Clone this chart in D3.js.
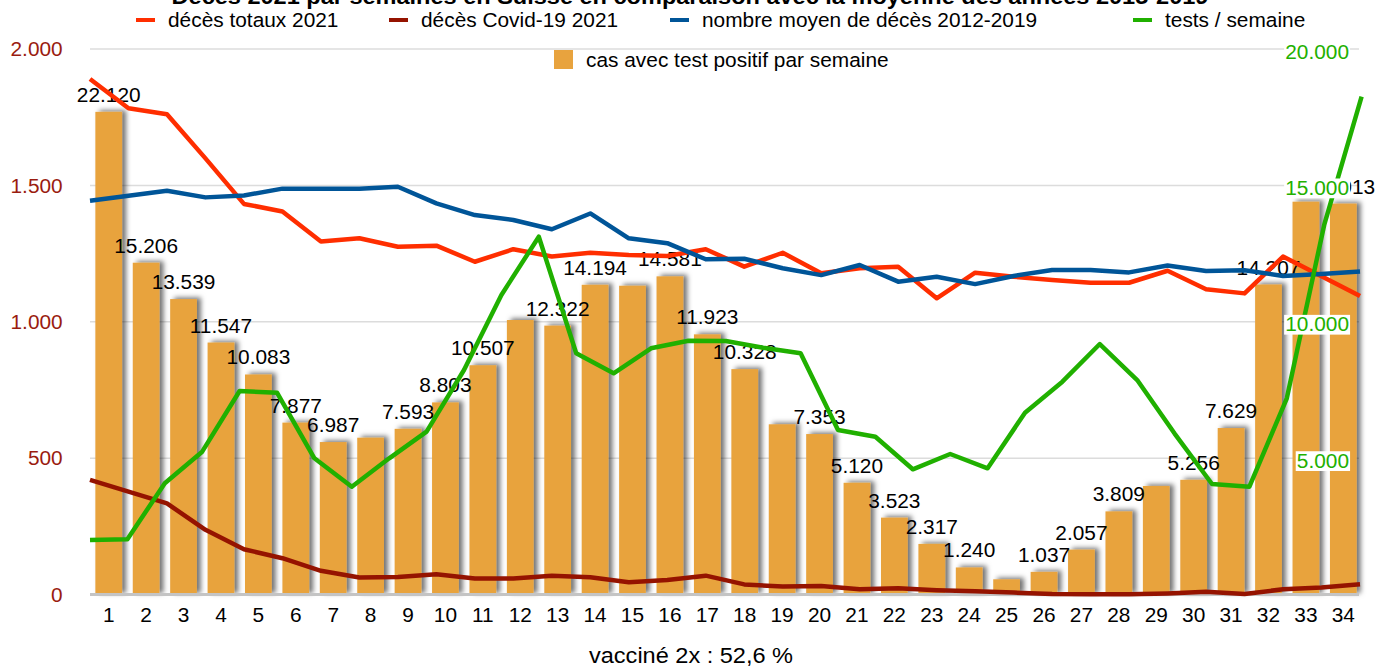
<!DOCTYPE html>
<html>
<head>
<meta charset="utf-8">
<script src="https://cdn.jsdelivr.net/npm/d3@7"></script>
<style>
  html, body { margin: 0; padding: 0; background: #fff; }
  svg { display: block; font-family: "Liberation Sans", Arial, sans-serif; }
</style>
</head>
<body>
<svg id="chart" width="1376" height="668"></svg>
<script>
// Weekly data, Switzerland 2021 (weeks 1..34)
const weeks = d3.range(1, 35);

// positive test cases per week (bars, hidden 0..25 000 scale)
const positiveCases = [22120, 15206, 13539, 11547, 10083, 7877, 6987, 7186, 7593, 8803,
  10507, 12580, 12322, 14194, 14150, 14581, 11923, 10328, 7800, 7353,
  5120, 3523, 2317, 1240, 697, 1037, 2057, 3809, 4973, 5256,
  7629, 14207, 18002, 17913];
// weeks whose value label is not printed
const unlabeledWeeks = [8, 12, 15, 19, 25, 29, 33];

// deaths (left axis)
const totalDeaths2021 = [1890, 1783, 1761, 1599, 1432, 1404, 1294, 1306, 1275, 1279,
  1220, 1266, 1239, 1253, 1245, 1241, 1266, 1202, 1253, 1178,
  1196, 1202, 1086, 1180, 1165, 1153, 1143, 1143, 1187, 1119,
  1104, 1239, 1167, 1094];
const covidDeaths2021 = [420, 377, 334, 237, 166, 133, 87, 62, 64, 74,
  59, 59, 69, 63, 45, 53, 69, 37, 29, 31,
  19, 23, 16, 12, 7, 2, 1, 1, 4, 10,
  2, 19, 26, 38];
const avgDeaths2012_2019 = [1444, 1462, 1480, 1456, 1463, 1488, 1488, 1488, 1495, 1434,
  1391, 1373, 1339, 1397, 1306, 1288, 1229, 1231, 1196, 1171,
  1208, 1147, 1165, 1138, 1168, 1190, 1190, 1181, 1206, 1186,
  1189, 1168, 1175, 1184];

// tests per week (right axis), 35 readings
const testsPerWeek = [2000, 2030, 4077, 5236, 7461, 7399, 4993, 3952, 4993, 5969,
  8231, 10981, 13118, 8843, 8110, 9026, 9306, 9294, 9050, 8843,
  6031, 5786, 4590, 5151, 4627, 6666, 7802, 9184, 7864, 5900,
  4051, 3952, 7193, 13550, 18251];

const leftTicks = [0, 500, 1000, 1500, 2000];
const rightTicks = [5000, 10000, 15000, 20000];

const titleText = "Décès 2021 par semaines en Suisse en comparaison avec la moyenne des années 2015-2019";
const footerText = "vacciné 2x : 52,6 %";

const series = [
  { name: "décès totaux 2021", values: totalDeaths2021, color: "#FF2E00" },
  { name: "décès Covid-19 2021", values: covidDeaths2021, color: "#951300" },
  { name: "nombre moyen de décès 2012-2019", values: avgDeaths2012_2019, color: "#005598" }
];
const testsName = "tests / semaine", testsColor = "#20B000";
const barsName = "cas avec test positif par semaine", barColor = "#E8A33E";

// ---- layout ----
const svg = d3.select("#chart");
const plot = { left: 90, right: 1360, top: 49, bottom: 594.5 };
const FS = 19.5, SX = 1.07;

const loc = d3.formatLocale({ decimal: ",", thousands: ".", grouping: [3], currency: ["", ""] });
const fmt = loc.format(",d");

const xBand = d3.scaleBand().domain(weeks).range([plot.left, 1362]).paddingInner(0.286).paddingOuter(0.143);
const xLine = d3.scalePoint().domain(weeks).range([plot.left, plot.right]);
const xTests = d3.scaleLinear().domain([0, testsPerWeek.length - 1]).range([plot.left, 1361.6]);
const yLeft = d3.scaleLinear().domain([0, 2000]).range([plot.bottom, plot.top]);
const yRight = d3.scaleLinear().domain([0, 20000]).range([plot.bottom, plot.top]);
const yBars = d3.scaleLinear().domain([0, 25000]).range([plot.bottom, plot.top]);

function label(parent, x, y, text, opts = {}) {
  const g = parent.append("g").attr("transform", `translate(${x},${y}) scale(${SX},1)`);
  const t = g.append("text")
    .attr("text-anchor", opts.anchor || "start")
    .attr("font-size", opts.size || FS)
    .attr("fill", opts.fill || "#000")
    .text(text);
  if (opts.weight) t.attr("font-weight", opts.weight);
  return g;
}

// shadow behind the bars
const defs = svg.append("defs");
const f = defs.append("filter").attr("id", "barShadow").attr("x", "-30%").attr("y", "-10%").attr("width", "160%").attr("height", "120%");
f.append("feDropShadow").attr("dx", 4).attr("dy", -1.5).attr("stdDeviation", 2.6)
  .attr("flood-color", "#000").attr("flood-opacity", 0.55);

// gridlines
svg.append("g").selectAll("line").data(leftTicks.filter(d => d > 0)).join("line")
  .attr("x1", plot.left).attr("x2", 1359)
  .attr("y1", d => yLeft(d)).attr("y2", d => yLeft(d))
  .attr("stroke", "#DCDCDC").attr("stroke-width", 1.5);

// bars
svg.append("g").attr("filter", "url(#barShadow)")
  .selectAll("rect").data(weeks).join("rect")
  .attr("x", d => xBand(d)).attr("width", xBand.bandwidth())
  .attr("y", (d, i) => yBars(positiveCases[i]))
  .attr("height", (d, i) => yBars(0) - yBars(positiveCases[i]))
  .attr("fill", barColor);

// baseline
svg.append("line").attr("x1", plot.left).attr("x2", 1359)
  .attr("y1", yLeft(0)).attr("y2", yLeft(0))
  .attr("stroke", "#C4C4C4").attr("stroke-width", 3);

// bar value labels
const barLabels = svg.append("g");
weeks.forEach((w, i) => {
  if (unlabeledWeeks.includes(w)) return;
  label(barLabels, xBand(w) + xBand.bandwidth() / 2, yBars(positiveCases[i]) - 10, fmt(positiveCases[i]), { anchor: "middle" });
});

// lines
const lineGen = d3.line().x((d, i) => xLine(weeks[i])).y(d => yLeft(d));
series.forEach(s => {
  svg.append("path").datum(s.values).attr("d", lineGen)
    .attr("fill", "none").attr("stroke", s.color).attr("stroke-width", 4.5)
    .attr("stroke-linejoin", "round");
});
svg.append("path").datum(testsPerWeek)
  .attr("d", d3.line().x((d, i) => xTests(i)).y(d => yRight(d)))
  .attr("fill", "none").attr("stroke", testsColor).attr("stroke-width", 4.5)
  .attr("stroke-linejoin", "round");

// left axis labels
const leftAxis = svg.append("g");
leftTicks.forEach(t => label(leftAxis, 62.7, yLeft(t) + 7.3, fmt(t), { anchor: "end", fill: "#9A1C10" }));

// right axis labels on white boxes
const rightAxis = svg.append("g");
rightTicks.forEach(t => {
  const g = label(rightAxis, 1349, yRight(t) + 9.5, fmt(t), { anchor: "end", fill: "#22B000" });
  const bb = g.select("text").node().getBBox();
  g.insert("rect", "text").attr("x", bb.x - 1).attr("y", bb.y + 1)
    .attr("width", bb.width + 2).attr("height", bb.height - 1.5).attr("fill", "#fff");
});

// x axis labels
const xAxis = svg.append("g");
weeks.forEach(w => label(xAxis, xBand(w) + xBand.bandwidth() / 2, 621.5, String(w), { anchor: "middle" }));

// title (top edge)
label(svg, 690, 4, titleText, { anchor: "middle", weight: "bold", size: 22 });

// legend
const legend = svg.append("g");
const lineItems = [
  { s: series[0], x: 136 }, { s: series[1], x: 389 }, { s: series[2], x: 670 },
  { s: { name: testsName, color: testsColor }, x: 1133 }
];
lineItems.forEach(it => {
  legend.append("line").attr("x1", it.x).attr("x2", it.x + 19).attr("y1", 20).attr("y2", 20)
    .attr("stroke", it.s.color).attr("stroke-width", 4);
  label(legend, it.x + 32, 26.7, it.s.name);
});
legend.append("rect").attr("x", 554).attr("y", 50).attr("width", 19).attr("height", 19).attr("fill", barColor);
label(legend, 586, 67, barsName);

// footer
label(svg, 691, 663, footerText, { anchor: "middle", size: 22 });
</script>
</body>
</html>
